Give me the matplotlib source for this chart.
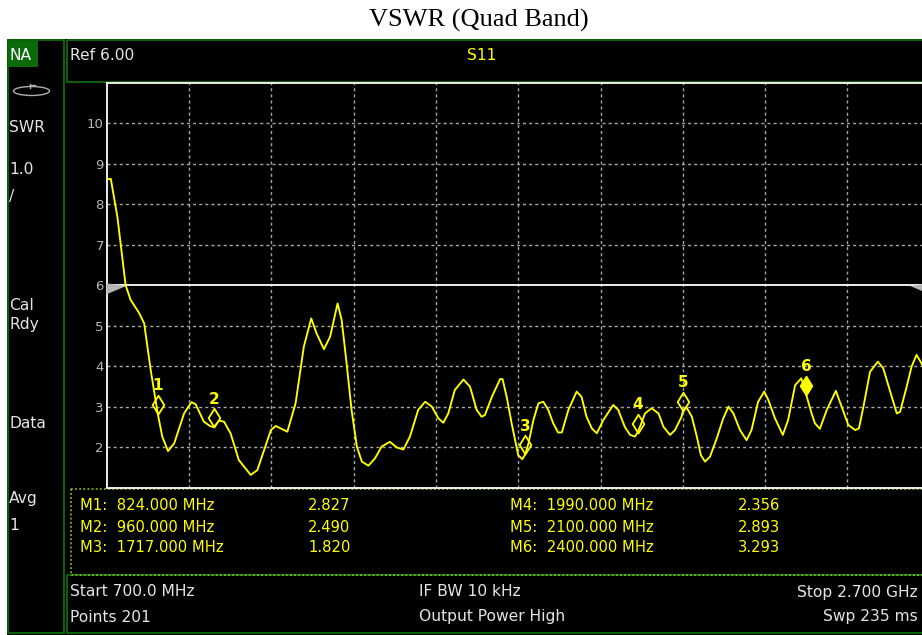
import matplotlib
matplotlib.use('Agg')
import matplotlib.pyplot as plt
from matplotlib.patches import Rectangle, Ellipse, Polygon
from matplotlib.path import Path
from matplotlib.markers import MarkerStyle

# ---------------- data ----------------
freq_mhz = [700, 710, 726, 746, 758, 779, 791, 807, 824, 835, 849, 864, 888, 906, 916,
            936, 951, 960, 973, 985, 1001, 1021, 1050, 1066, 1099, 1111, 1139, 1159,
            1179, 1197, 1210, 1228, 1243, 1261, 1271, 1283, 1295, 1308, 1320, 1336,
            1352, 1368, 1388, 1405, 1421, 1437, 1457, 1474, 1490, 1506, 1518, 1530,
            1546, 1567, 1583, 1599, 1611, 1619, 1636, 1656, 1662, 1672, 1684, 1700,
            1710, 1717, 1725, 1737, 1749, 1761, 1773, 1785, 1797, 1806, 1822, 1842,
            1854, 1866, 1879, 1891, 1907, 1931, 1943, 1959, 1972, 1984, 1990, 1996,
            2008, 2024, 2041, 2053, 2069, 2081, 2097, 2100, 2109, 2122, 2134, 2144,
            2154, 2166, 2182, 2198, 2211, 2223, 2239, 2255, 2267, 2283, 2298, 2308,
            2324, 2343, 2356, 2373, 2388, 2400, 2413, 2421, 2433, 2450, 2472, 2486,
            2502, 2519, 2528, 2539, 2555, 2574, 2587, 2604, 2620, 2628, 2644, 2656,
            2668, 2680, 2700]
swr = [8.62, 8.63, 7.69, 6.00, 5.64, 5.31, 5.06, 3.90, 2.83, 2.26, 1.90, 2.09, 2.83, 3.11, 3.06,
       2.63, 2.52, 2.49, 2.65, 2.63, 2.34, 1.68, 1.31, 1.43, 2.42, 2.52, 2.38, 3.08,
       4.48, 5.18, 4.81, 4.42, 4.73, 5.55, 5.14, 4.07, 2.92, 2.01, 1.64, 1.54,
       1.72, 2.01, 2.13, 1.99, 1.94, 2.26, 2.92, 3.12, 3.00, 2.71, 2.60, 2.83,
       3.41, 3.67, 3.49, 2.92, 2.75, 2.79, 3.24, 3.68, 3.68, 3.24, 2.59, 1.80,
       1.70, 1.82, 2.09, 2.67, 3.08, 3.12, 2.92, 2.59, 2.36, 2.36, 2.92, 3.37,
       3.24, 2.75, 2.46, 2.34, 2.67, 3.04, 2.92, 2.50, 2.30, 2.26, 2.36, 2.50,
       2.83, 2.96, 2.83, 2.50, 2.30, 2.42, 2.75, 2.89, 2.98, 2.75, 2.26, 1.80,
       1.64, 1.76, 2.20, 2.70, 3.00, 2.83, 2.42, 2.17, 2.42, 3.12, 3.37, 3.16,
       2.71, 2.30, 2.67, 3.53, 3.70, 3.29, 2.83, 2.59, 2.45, 2.92, 3.39, 3.00,
       2.55, 2.42, 2.46, 3.00, 3.86, 4.11, 3.95, 3.37, 2.83, 2.87, 3.49, 3.99,
       4.28, 4.07, 3.60]

marker_ids = [1, 2, 3, 4, 5, 6]
marker_freq = [824.0, 960.0, 1717.0, 1990.0, 2100.0, 2400.0]
marker_swr = [2.827, 2.490, 1.820, 2.356, 2.893, 3.293]
active_marker = 6

y_ticks = [2, 3, 4, 5, 6, 7, 8, 9, 10]
ref_level = 6.0
start_mhz, stop_mhz = 700, 2700
y_min, y_max = 1, 11

left_labels = [("SWR", 127), ("1.0", 170), ("/", 197), ("Cal", 305), ("Rdy", 324),
               ("Data", 424), ("Avg", 499), ("1", 525)]
status_left = ["Start 700.0 MHz", "Points 201"]
status_mid = ["IF BW 10 kHz", "Output Power High"]
status_right = ["Stop 2.700 GHz", "Swp 235 ms"]

# ---------------- styling ----------------
W, H = 922, 635
GREEN = '#0b6b0b'
TXT = '#e4e4e4'
YEL = '#ffff00'
GRID = '#a6a6a6'
UIFONT = 'DejaVu Sans'
FS = 11.2

fig = plt.figure(figsize=(W / 100, H / 100), dpi=100)
fig.patch.set_facecolor('white')
bg = fig.add_axes([0, 0, 1, 1])
bg.set_xlim(0, W)
bg.set_ylim(H, 0)
bg.axis('off')
bg.set_zorder(0)

# screen background and panels
bg.add_patch(Rectangle((7, 39), W - 7, H - 39, facecolor='black', edgecolor='none'))
bg.add_patch(Rectangle((7.5, 40), 56, 593, facecolor='none', edgecolor=GREEN, lw=1.3))
bg.add_patch(Rectangle((7.5, 41), 30, 26, facecolor=GREEN, edgecolor='none'))
bg.add_patch(Rectangle((67, 40), 870, 42, facecolor='none', edgecolor=GREEN, lw=1.3))
bg.add_patch(Rectangle((67, 575), 870, 58, facecolor='none', edgecolor=GREEN, lw=1.3))
bg.add_patch(Rectangle((71, 488.5), 870, 86, facecolor='none', edgecolor='#9ccc20',
                       lw=1.1, ls=(0, (1.2, 1.5))))

# title
bg.text(479, 20, 'VSWR (Quad Band)', family='Liberation Serif', fontsize=19,
        ha='center', va='center', color='black')

# left panel
bg.text(9, 55, 'NA', color='white', fontsize=FS, family=UIFONT, va='center')
bg.add_patch(Ellipse((31.5, 91), 36, 9, facecolor='none', edgecolor='#b0b0b0', lw=1))
bg.plot([30, 30], [84, 88], color='#b0b0b0', lw=1)
bg.plot([30, 35], [85, 85], color='#b0b0b0', lw=1)
for txt, yy in left_labels:
    bg.text(9, yy, txt, color=TXT, fontsize=FS, family=UIFONT, va='center')

# header
bg.text(70, 56, 'Ref %.2f' % ref_level, color=TXT, fontsize=FS, family=UIFONT, va='center')
bg.text(482, 56, 'S11', color=YEL, fontsize=FS, family=UIFONT, va='center', ha='center')

# marker table
row_y = [506, 527, 548]
for k, (mid, mf, mv) in enumerate(zip(marker_ids, marker_freq, marker_swr)):
    col = k // 3
    yy = row_y[k % 3]
    xf = 80 if col == 0 else 510
    xv = 308 if col == 0 else 738
    bg.text(xf, yy, 'M%d:  %.3f MHz' % (mid, mf), color=YEL, fontsize=FS - 0.6,
            family=UIFONT, va='center')
    bg.text(xv, yy, '%.3f' % mv, color=YEL, fontsize=FS - 0.6, family=UIFONT, va='center')

# status bar
for txt, yy in zip(status_left, [592, 617]):
    bg.text(70, yy, txt, color=TXT, fontsize=FS, family=UIFONT, va='center')
for txt, yy in zip(status_mid, [592, 617]):
    bg.text(419, yy, txt, color=TXT, fontsize=FS, family=UIFONT, va='center')
for txt, yy in zip(status_right, [592, 617]):
    bg.text(918, yy, txt, color=TXT, fontsize=FS, family=UIFONT, va='center', ha='right')

# ---------------- plot area ----------------
x0, x1 = 106.7, 929.7
y0, y1 = 83, 487.5
ax = fig.add_axes([x0 / W, 1 - y1 / H, (x1 - x0) / W, (y1 - y0) / H])
ax.set_zorder(1)
ax.set_facecolor('black')
ax.set_xlim(start_mhz, stop_mhz)
ax.set_ylim(y_min, y_max)
for s in ax.spines.values():
    s.set_color('white')
    s.set_linewidth(1.3)
ax.set_xticks([])
ax.set_yticks(y_ticks)
ax.set_yticklabels([str(t) for t in y_ticks], color='#b8b8b8', fontsize=9.5, family=UIFONT)
ax.tick_params(axis='y', length=0, pad=2)

for gx in range(start_mhz + 200, stop_mhz, 200):
    ax.axvline(gx, color=GRID, lw=1.0, ls=(0, (2.2, 2.2)), zorder=1)
for gy in y_ticks:
    if gy == ref_level:
        continue
    ax.axhline(gy, color=GRID, lw=1.0, ls=(0, (2.2, 2.2)), zorder=1)
ax.axhline(ref_level, color='white', lw=1.3, zorder=2)

ax.plot(freq_mhz, swr, color=YEL, lw=1.35, zorder=3)

# marker diamonds (bottom vertex on the marker point)
dpath = Path([(0, 0), (0.62, 1), (0, 2), (-0.62, 1), (0, 0)],
             [Path.MOVETO, Path.LINETO, Path.LINETO, Path.LINETO, Path.CLOSEPOLY])
dmark = MarkerStyle(dpath)
for mid, mf, mv in zip(marker_ids, marker_freq, marker_swr):
    filled = (mid == active_marker)
    ax.plot([mf], [mv], marker=dmark, markersize=27, linestyle='none',
            markerfacecolor=YEL if filled else 'none', markeredgecolor=YEL,
            markeredgewidth=1.3, zorder=4)
    ax.annotate(str(mid), xy=(mf, mv), xytext=(0, 28), textcoords='offset pixels',
                ha='center', va='center', color=YEL, fontsize=11, fontweight='bold',
                family=UIFONT, zorder=5)

# reference level arrows at both edges (overlay)
ref_px = y1 - (ref_level - y_min) / (y_max - y_min) * (y1 - y0)
ov = fig.add_axes([0, 0, 1, 1], facecolor='none')
ov.set_xlim(0, W)
ov.set_ylim(H, 0)
ov.axis('off')
ov.set_zorder(2)
ov.add_patch(Polygon([(x0, ref_px - 2), (x0, ref_px + 9), (x0 + 19, ref_px + 1)],
                     closed=True, facecolor='#b4b4b4', edgecolor='none'))
ov.add_patch(Polygon([(x1, ref_px - 2), (x1, ref_px + 9), (x1 - 19, ref_px + 1)],
                     closed=True, facecolor='#b4b4b4', edgecolor='none'))

fig.savefig('out.png', dpi=100, facecolor='white')
